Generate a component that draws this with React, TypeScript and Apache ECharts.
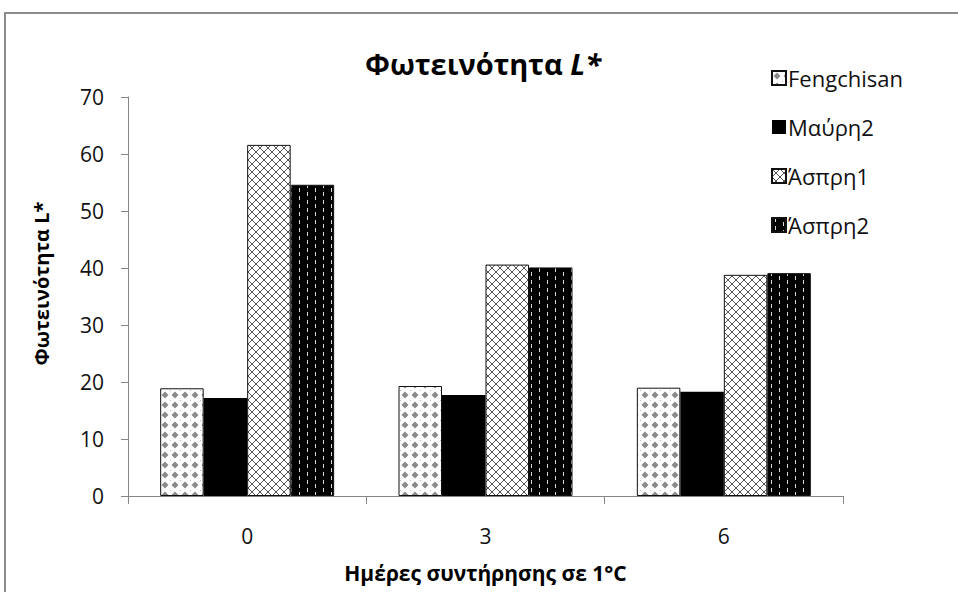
import React, { useEffect, useRef } from "react";
import * as echarts from "echarts";

// Storage days (x categories)
const days = ["0", "3", "6"];

// Lightness L* per cultivar
const fengchisan = [18.9, 19.3, 19.0];
const mavri2 = [17.2, 17.7, 18.3];
const aspri1 = [61.6, 40.6, 38.8];
const aspri2 = [54.6, 40.1, 39.1];

const seriesNames = ["Fengchisan", "Μαύρη2", "Άσπρη1", "Άσπρη2"];

const FONT = "'Open Sans', 'Noto Sans', sans-serif";

function tile(w: number, h: number, draw: (ctx: CanvasRenderingContext2D) => void) {
  const c = document.createElement("canvas");
  c.width = w;
  c.height = h;
  const ctx = c.getContext("2d")!;
  draw(ctx);
  return { image: c.toDataURL(), repeat: "repeat", imageWidth: w, imageHeight: h } as any;
}

// Gray diamond dots on white
const dotPattern = () =>
  tile(10, 10, (ctx) => {
    ctx.fillStyle = "#fff";
    ctx.fillRect(0, 0, 10, 10);
    ctx.fillStyle = "#8a8a8a";
    ctx.beginPath();
    ctx.moveTo(5, 1.5);
    ctx.lineTo(8.5, 5);
    ctx.lineTo(5, 8.5);
    ctx.lineTo(1.5, 5);
    ctx.closePath();
    ctx.fill();
    ctx.fillStyle = "#b5b5b5";
    ctx.fillRect(0, 0, 1, 1);
  });

// Diagonal crosshatch on white
const hatchPattern = () =>
  tile(8, 8, (ctx) => {
    ctx.fillStyle = "#fff";
    ctx.fillRect(0, 0, 8, 8);
    ctx.strokeStyle = "#555";
    ctx.lineWidth = 1;
    ctx.beginPath();
    ctx.moveTo(0, 0);
    ctx.lineTo(8, 8);
    ctx.moveTo(8, 0);
    ctx.lineTo(0, 8);
    ctx.stroke();
  });

// Short light dashes on black, staggered columns
const dashPattern = () =>
  tile(16, 8, (ctx) => {
    ctx.fillStyle = "#000";
    ctx.fillRect(0, 0, 16, 8);
    ctx.fillStyle = "#d8d8d8";
    ctx.fillRect(3, 0, 1, 4);
    ctx.fillRect(11, 4, 1, 4);
  });

export default function App() {
  const ref = useRef<HTMLDivElement>(null);

  useEffect(() => {
    if (!ref.current) return;
    const chart = echarts.init(ref.current, null, { renderer: "svg" });

    const fills = [dotPattern(), "#000", hatchPattern(), dashPattern()];
    const values = [fengchisan, mavri2, aspri1, aspri2];

    chart.setOption({
      animation: false,
      backgroundColor: "#fff",
      title: {
        text: "{a|Φωτεινότητα }{b|L*}",
        left: 478,
        textAlign: "center",
        top: 44,
        textStyle: {
          rich: {
            a: { fontFamily: FONT, fontSize: 29, fontWeight: "bold", color: "#000" },
            b: { fontFamily: FONT, fontSize: 29, fontWeight: "bold", fontStyle: "italic", color: "#000" },
          },
        },
      },
      legend: {
        orient: "vertical",
        left: 766,
        top: 60,
        icon: "rect",
        itemWidth: 14,
        itemHeight: 14,
        itemGap: 23,
        data: seriesNames,
        textStyle: { fontFamily: FONT, fontSize: 22, color: "#111", lineHeight: 26, padding: [0, 0, 0, -3] },
      },
      graphic: [
        {
          type: "rect",
          shape: { x: 5, y: 13, width: 970, height: 600 },
          style: { fill: "none", stroke: "#8c8c8c", lineWidth: 2 },
        },
      ],
      grid: { left: 128, right: 115, top: 97, bottom: 96 },
      xAxis: {
        type: "category",
        data: days,
        name: "Ημέρες συντήρησης σε 1°C",
        nameLocation: "middle",
        nameGap: 66,
        nameTextStyle: { fontFamily: FONT, fontSize: 21, fontWeight: "bold", color: "#000" },
        axisLine: { lineStyle: { color: "#868686", width: 1 } },
        axisTick: { show: true, length: 8, lineStyle: { color: "#868686" } },
        axisLabel: { fontFamily: FONT, fontSize: 21, color: "#111", margin: 29 },
      },
      yAxis: {
        type: "value",
        min: 0,
        max: 70,
        interval: 10,
        name: "Φωτεινότητα L*",
        nameLocation: "middle",
        nameGap: 77,
        nameRotate: 90,
        nameTextStyle: {
          fontFamily: FONT,
          fontSize: 20,
          fontWeight: "bold",
          color: "#000",
          padding: [0, 0, 0, 26],
        },
        axisLine: { show: true, lineStyle: { color: "#868686", width: 1 } },
        axisTick: { show: true, length: 7, lineStyle: { color: "#868686" } },
        axisLabel: { fontFamily: FONT, fontSize: 21, color: "#111", margin: 24 },
        splitLine: { show: false },
      },
      series: seriesNames.map((name, i) => ({
        name,
        type: "bar",
        data: values[i],
        barGap: "0%",
        barCategoryGap: "27%",
        itemStyle: {
          color: fills[i],
          borderColor: "#111",
          borderWidth: i === 1 ? 0 : 1,
        },
      })),
    });

    return () => chart.dispose();
  }, []);

  return (
    <div
      ref={ref}
      style={{ position: "absolute", left: 0, top: 0, width: 958, height: 592 }}
    />
  );
}
